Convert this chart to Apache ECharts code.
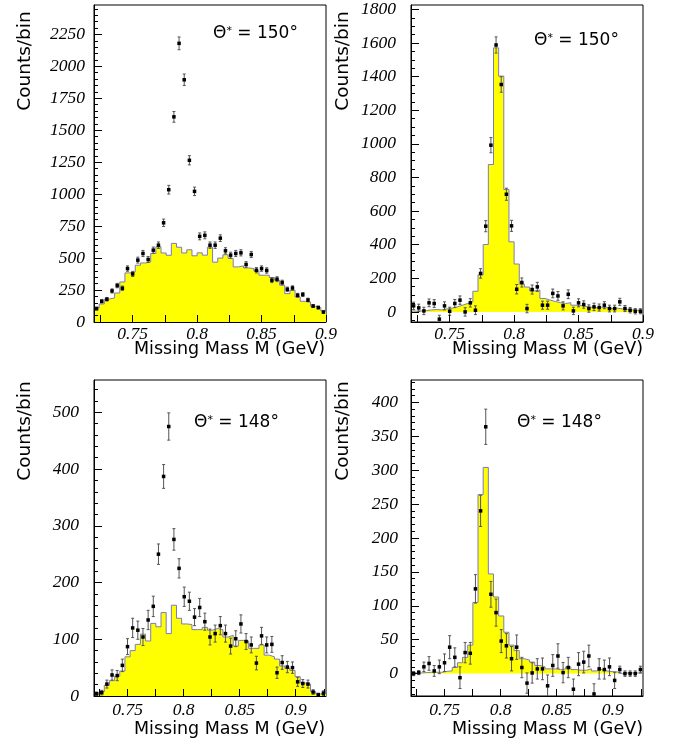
<!DOCTYPE html>
<html>
<head>
<meta charset="utf-8">
<script src="https://cdn.jsdelivr.net/npm/echarts@6/dist/echarts.min.js"></script>
<style>
  html, body { margin: 0; padding: 0; background: #ffffff; }
  #chart { width: 678px; height: 747px; }
</style>
</head>
<body>
<div id="chart"></div>
<script>
// Missing-mass spectra, 45 bins per panel.
const BIN_START = 0.72;
const BIN_WIDTH_150 = 0.004;   // 0.72 – 0.90 GeV
const BIN_WIDTH_148 = 0.0046;  // 0.72 – 0.927 GeV

// Θ* = 150°, all events (left) — data points, errors and simulated background
const counts150all = [105,162,178,243,285,264,418,376,484,536,489,562,601,776,1035,1605,2180,1895,1265,1022,670,678,601,601,656,557,523,536,541,450,528,405,418,403,327,335,309,256,266,209,215,172,125,113,78];
const errors150all = [11,13,14,16,17,17,21,20,23,24,23,24,25,29,34,42,50,45,36,33,27,27,25,25,26,24,23,24,24,22,24,21,21,21,19,19,18,17,17,15,15,14,12,11,9];
const hist150all = [110,141,180,188,227,313,384,392,444,462,470,536,588,540,522,615,585,540,565,518,541,523,585,468,500,526,497,431,439,423,418,400,366,366,348,327,288,222,248,196,162,157,123,113,86];

// Θ* = 150°, background subtracted (right)
const counts150sub = [36,24,6,54,50,-43,36,4,50,70,0,54,10,229,510,992,1588,1353,700,512,135,175,20,133,149,40,40,110,95,36,105,6,54,44,20,30,26,40,20,20,60,20,10,4,4];
const errors150sub = [22,22,22,23,23,23,24,24,24,25,25,25,26,28,33,45,48,46,36,33,28,27,25,27,27,24,24,26,26,24,26,22,24,22,22,22,21,21,20,20,21,18,16,16,15];
const hist150sub = [5,6,8,12,14,12,18,22,30,40,50,60,123,220,401,877,1571,1403,728,417,285,165,148,125,130,80,70,62,55,50,55,40,38,32,28,25,28,25,20,22,18,15,12,10,8];

// Θ* = 148°, all events (left)
const counts148all = [4,6,21,37,36,54,87,120,116,104,134,158,250,387,475,276,225,175,167,139,156,131,104,110,124,110,88,101,127,96,90,58,106,90,91,41,59,51,50,25,22,21,7,2,5];
const errors148all = [3,4,7,9,9,11,14,17,16,15,17,18,18,21,24,19,17,17,16,15,16,15,14,15,16,15,14,14,16,14,14,12,15,14,14,10,12,10,10,8,7,7,4,3,4];
const hist148all = [3.5,7.6,19,27,35,44,69,80,91,109,97,128,122,147,110,160,137,127,126,117,117,121,116,119,117,104,107,88,98,97,84,84,90,72,69,65,53,49,45,34,23,21,8,3.5,4.7];

// Θ* = 148°, background subtracted (right)
const counts148sub = [0,1.5,10,15,4,10,16,39,24,-6,31,30,125,240,364,117,90,48,41,22,39,9,-14,1,7,7,-18,12,26,1.5,9,-23,14,17,26,-30,7,6,10,-10,6,0,0,0,6];
const errors148sub = [3,3,7,10,8,10,13,17,14,16,15,16,21,23,26,19,20,17,18,18,18,15,15,15,15,16,16,16,18,15,15,15,17,16,16,15,15,14,13,12,5,4,4,4,5];
const hist148sub = [1,1,1.5,2,2,2,3.4,4,9,16,24,42,105,264,304,147,113,85,61,42,34,22,20,17,12,10,7,7,6,7,10,6,5,5,7,4,6,4,3,2.5,0,1,1,1,1];

// Axis ticks and labels
const xTicks150 = [0.725,0.75,0.775,0.8,0.825,0.85,0.875,0.9];
const xTicks148 = [0.725,0.75,0.775,0.8,0.825,0.85,0.875,0.9,0.925];
const xLabels = [0.75,0.8,0.85,0.9];
const yLabels150all = [0,250,500,750,1000,1250,1500,1750,2000,2250];
const yLabels150sub = [0,200,400,600,800,1000,1200,1400,1600,1800];
const yLabels148all = [0,100,200,300,400,500];
const yLabels148sub = [0,50,100,150,200,250,300,350,400];

const thetaLabels = ['150', '150', '148', '148'];
const xName = 'Missing Mass M (GeV)';
const yName = 'Counts/bin';

function minorTicks(lo, hi, step) {
  const out = [];
  for (let v = Math.ceil(lo / step) * step; v <= hi + 1e-9; v += step) out.push(+v.toFixed(6));
  return out;
}

function stepData(width, heights) {
  const d = heights.map((h, i) => [BIN_START + i * width, h]);
  d.push([BIN_START + heights.length * width, heights[heights.length - 1]]);
  return d;
}

function pointData(width, counts, errors) {
  return counts.map((c, i) => [BIN_START + (i + 0.5) * width, c, errors[i]]);
}

const panels = [
  { grid: { left: 94, top: 5, width: 232, height: 317 }, xMax: 0.9, xTicks: xTicks150,
    yMin: 0, yMax: 2480, yLabels: yLabels150all, yMinor: minorTicks(0, 2480, 50), yMargin: 9, xMargin: 3,
    width: BIN_WIDTH_150, counts: counts150all, errors: errors150all, hist: hist150all },
  { grid: { left: 411, top: 5, width: 232, height: 317 }, xMax: 0.9, xTicks: xTicks150,
    yMin: -60, yMax: 1826, yLabels: yLabels150sub, yMinor: minorTicks(-60, 1826, 50), yMargin: 15, xMargin: 3,
    width: BIN_WIDTH_150, counts: counts150sub, errors: errors150sub, hist: hist150sub },
  { grid: { left: 94, top: 380, width: 232, height: 316 }, xMax: 0.927, xTicks: xTicks148,
    yMin: 0, yMax: 557, yLabels: yLabels148all, yMinor: minorTicks(0, 557, 20), yMargin: 15, xMargin: 5,
    width: BIN_WIDTH_148, counts: counts148all, errors: errors148all, hist: hist148all },
  { grid: { left: 411, top: 380, width: 232, height: 316 }, xMax: 0.927, xTicks: xTicks148,
    yMin: -33, yMax: 433, yLabels: yLabels148sub, yMinor: minorTicks(-33, 433, 10), yMargin: 13, xMargin: 5,
    width: BIN_WIDTH_148, counts: counts148sub, errors: errors148sub, hist: hist148sub }
];

const tickFont = { fontFamily: '"Liberation Serif", serif', fontStyle: 'italic', fontSize: 17.5, color: '#000' };
const fmt = v => String(parseFloat((+v).toFixed(4)));

const grid = [], xAxis = [], yAxis = [], series = [];
panels.forEach((p, i) => {
  grid.push(Object.assign({ show: true, borderColor: '#000', borderWidth: 1, backgroundColor: 'transparent' }, p.grid));
  xAxis.push({
    gridIndex: i, type: 'value', min: BIN_START, max: p.xMax, z: 5,
    axisLine: { show: true, onZero: false, lineStyle: { color: '#000', width: 1 } },
    axisTick: { show: true, inside: true, length: 7, customValues: p.xTicks, lineStyle: { color: '#000', width: 1 } },
    axisLabel: Object.assign({ customValues: xLabels, margin: p.xMargin, formatter: fmt }, tickFont),
    splitLine: { show: false }
  });
  // labelled axis with major ticks
  yAxis.push({
    gridIndex: i, type: 'value', position: 'left', min: p.yMin, max: p.yMax, z: 5,
    axisLine: { show: true, onZero: false, lineStyle: { color: '#000', width: 1 } },
    axisTick: { show: true, inside: true, length: 8, customValues: p.yLabels, lineStyle: { color: '#000', width: 1 } },
    axisLabel: Object.assign({ customValues: p.yLabels, margin: p.yMargin, formatter: fmt }, tickFont),
    splitLine: { show: false }
  });
  // companion axis carrying the minor ticks
  yAxis.push({
    gridIndex: i, type: 'value', position: 'left', min: p.yMin, max: p.yMax, z: 5,
    axisLine: { show: false },
    axisTick: { show: true, inside: true, length: 4, customValues: p.yMinor, lineStyle: { color: '#000', width: 1 } },
    axisLabel: { show: false },
    splitLine: { show: false }
  });

  series.push({
    type: 'line', xAxisIndex: i, yAxisIndex: 2 * i, step: 'end', symbol: 'none',
    data: stepData(p.width, p.hist), clip: true, z: 2,
    lineStyle: { color: '#7c7cb8', width: 1 },
    areaStyle: { color: '#ffff00', opacity: 1 }
  });

  series.push({
    type: 'custom', xAxisIndex: i, yAxisIndex: 2 * i, clip: true, z: 3,
    data: pointData(p.width, p.counts, p.errors),
    renderItem: (params, api) => {
      const x = api.value(0), y = api.value(1), e = api.value(2);
      const c = api.coord([x, y]);
      const t = api.coord([x, y + e]);
      const b = api.coord([x, y - e]);
      const bar = { stroke: '#555', lineWidth: 1 };
      return {
        type: 'group',
        children: [
          { type: 'line', shape: { x1: c[0], y1: t[1], x2: c[0], y2: b[1] }, style: bar },
          { type: 'line', shape: { x1: c[0] - 1.5, y1: t[1], x2: c[0] + 1.5, y2: t[1] }, style: bar },
          { type: 'line', shape: { x1: c[0] - 1.5, y1: b[1], x2: c[0] + 1.5, y2: b[1] }, style: bar },
          { type: 'rect', shape: { x: c[0] - 1.75, y: c[1] - 1.75, width: 3.5, height: 3.5 }, style: { fill: '#000' } }
        ]
      };
    }
  });
});

const sans = '"DejaVu Sans", sans-serif';
const graphic = [];
// axis titles
[[325, 349], [643, 349], [325, 729], [643, 729]].forEach(([x, y]) => {
  graphic.push({ type: 'text', x, y, z: 10,
    style: { text: xName, fontFamily: sans, fontSize: 17.5, fill: '#000', align: 'right', verticalAlign: 'middle' } });
});
[[25, 61], [343, 61], [25, 431], [343, 431]].forEach(([x, y]) => {
  graphic.push({ type: 'text', x, y, rotation: Math.PI / 2, z: 10,
    style: { text: yName, fontFamily: sans, fontSize: 18.5, fill: '#000', align: 'center', verticalAlign: 'middle' } });
});
// angle annotations
[[213, 34], [534, 41], [194, 423], [517, 423]].forEach(([x, y], i) => {
  graphic.push({ type: 'text', x, y, z: 10,
    style: {
      text: '{t|Θ}{s|*}{t| = ' + thetaLabels[i] + '°}',
      align: 'left', verticalAlign: 'middle',
      rich: {
        t: { fontFamily: sans, fontSize: 17, fill: '#000' },
        s: { fontFamily: sans, fontSize: 11, fill: '#000', verticalAlign: 'top', padding: [0, 0, 6, 0] }
      }
    } });
});

const chart = echarts.init(document.getElementById('chart'));
chart.setOption({ animation: false, backgroundColor: '#ffffff', grid, xAxis, yAxis, series, graphic });
</script>
</body>
</html>
